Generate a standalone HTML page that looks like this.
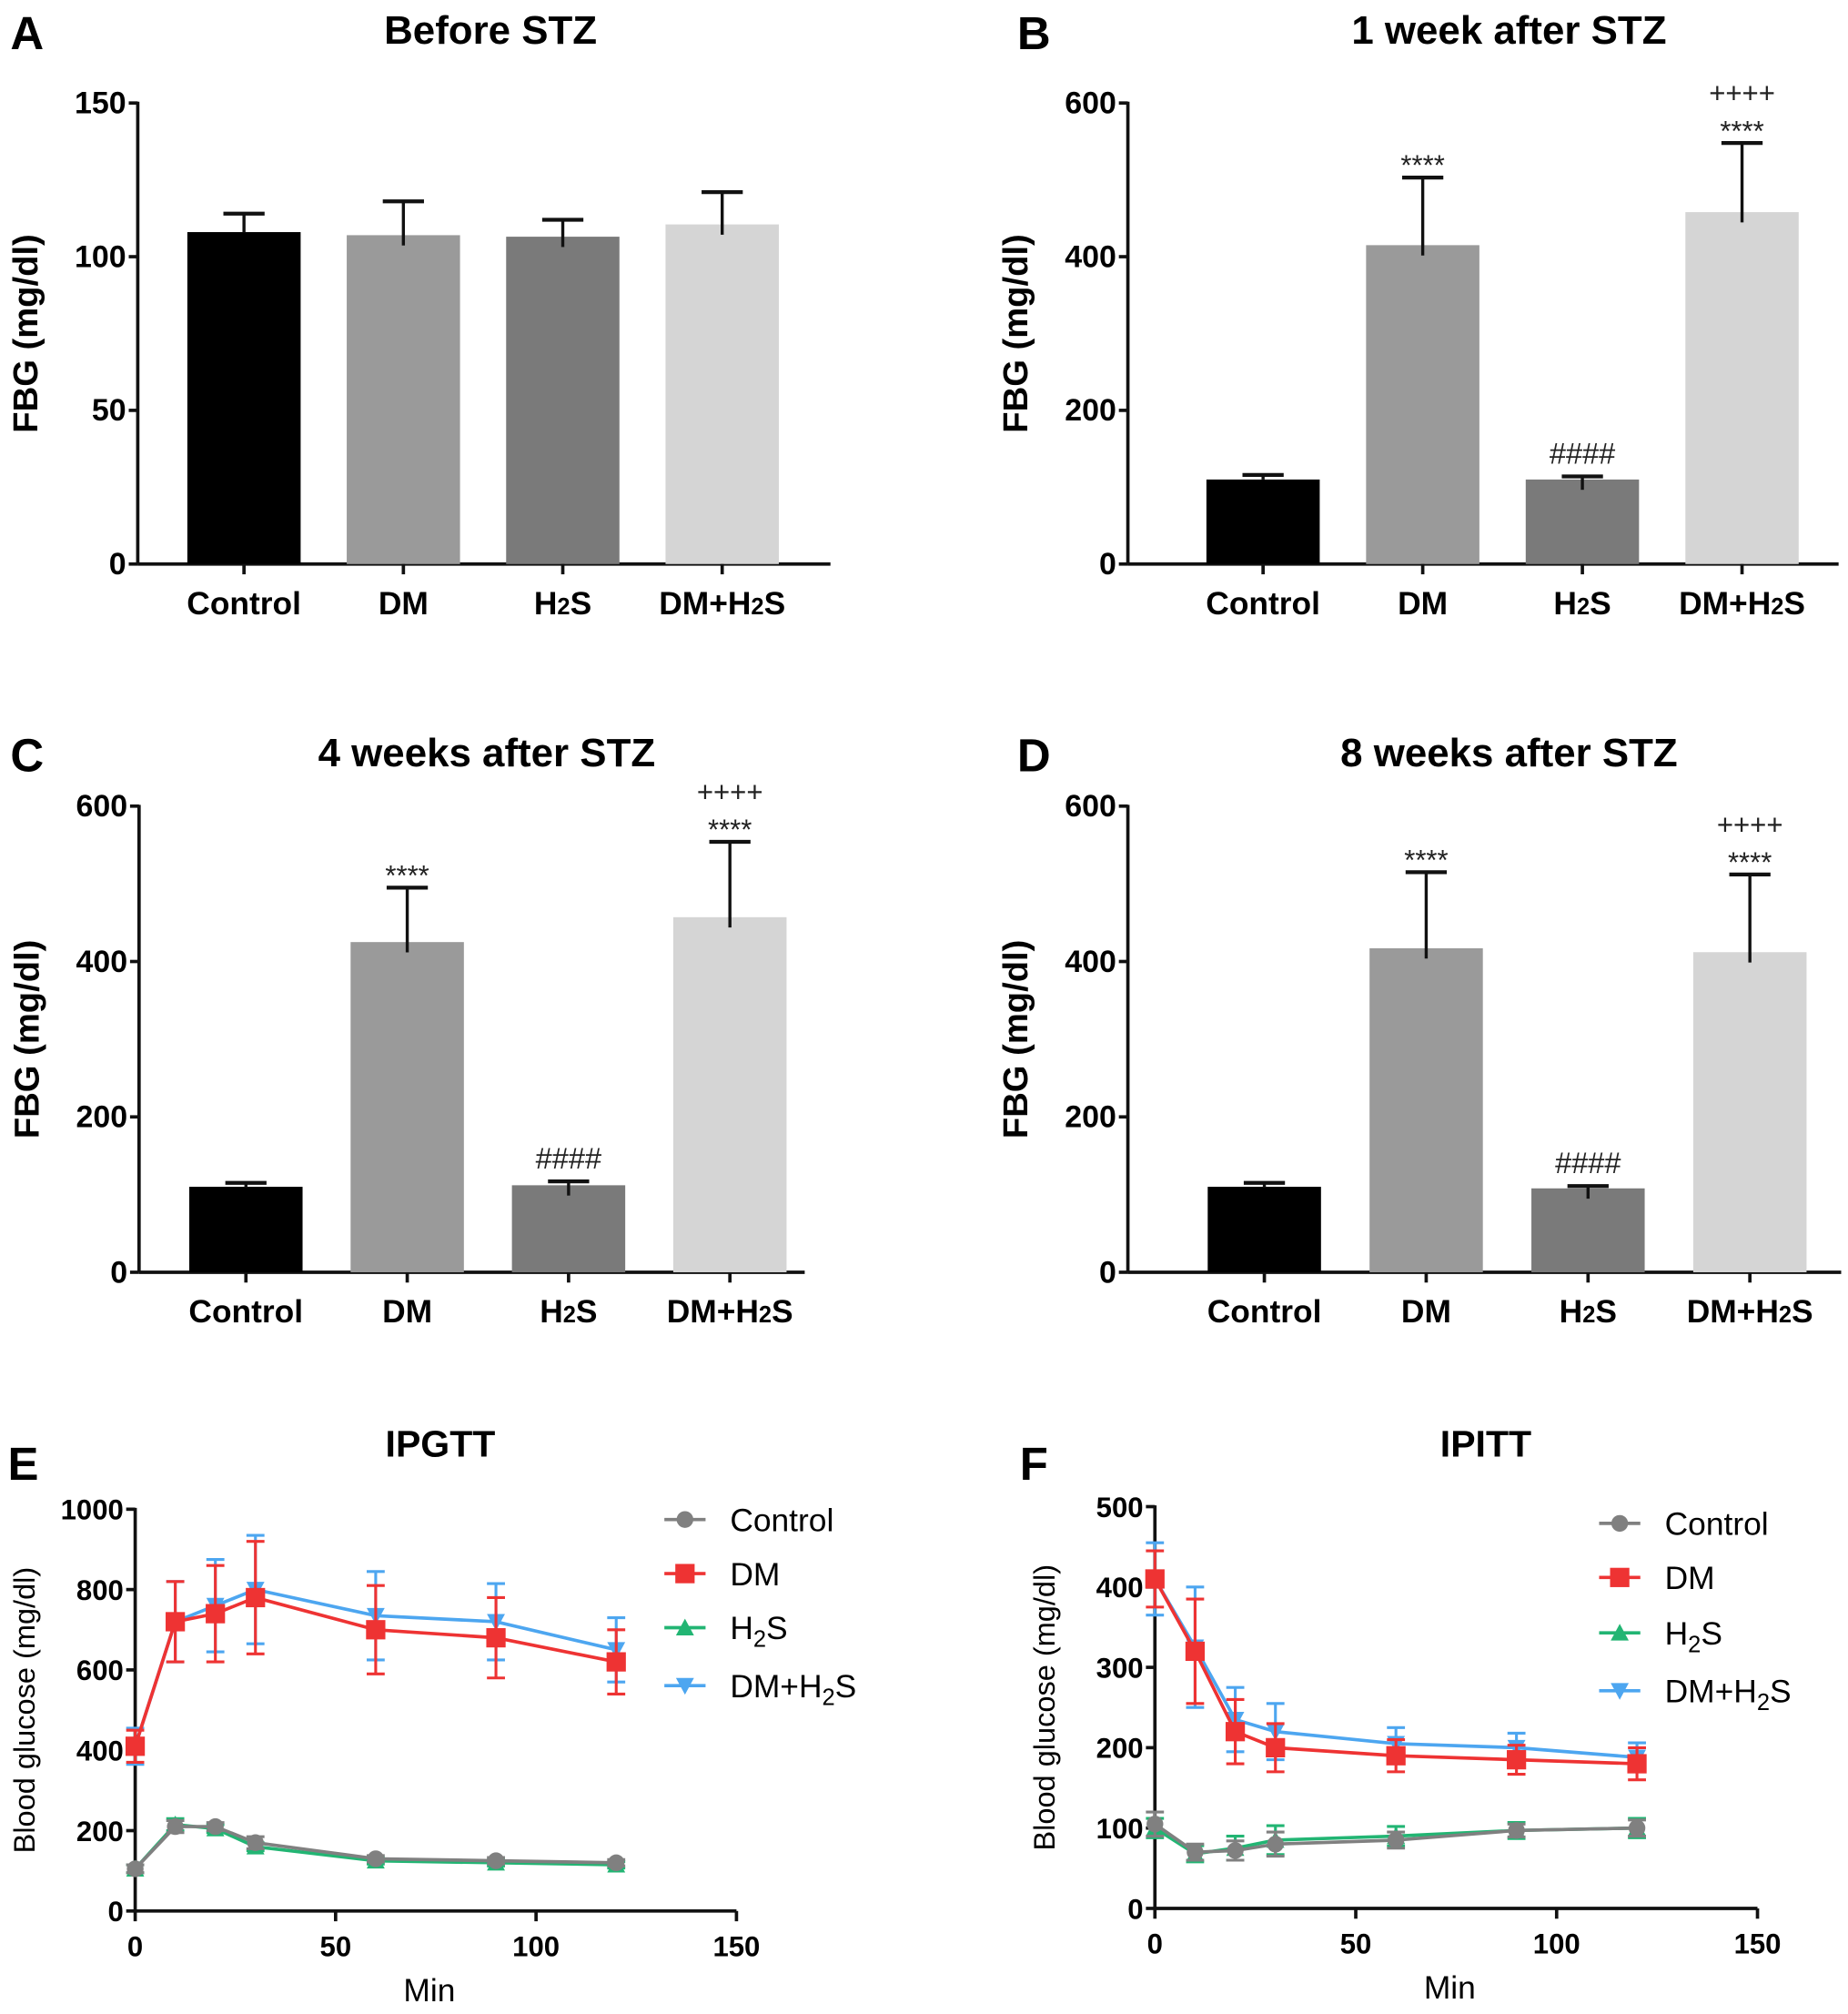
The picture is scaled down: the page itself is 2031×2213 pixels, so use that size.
<!DOCTYPE html>
<html><head><meta charset="utf-8"><style>
html,body{margin:0;padding:0;background:#fff;}
svg{display:block;}
text{font-family:"Liberation Sans",Arial,sans-serif;}
.b{font-weight:bold;}
</style></head><body>
<svg id="fig" width="2031" height="2213" viewBox="0 0 1435.3 1564" preserveAspectRatio="none" xmlns="http://www.w3.org/2000/svg"></svg>
<script>
// ---- Bar panel data ----
const barCategories = ["Control","DM","H2S","DM+H2S"];
const barColors = ["#000000","#9a9a9a","#7a7a7a","#d5d5d5"];
const valsA = [108,107,106.5,110.5];
const errA  = [6,11,5.5,10.5];
const valsB = [110,415,110,458];
const errB  = [6,88,4,90];
const valsC = [110,425,112,457];
const errC  = [5,70,5,97];
const valsD = [110,417,108,412];
const errD  = [5,98,3,100];
const ticksA = [0,50,100,150];
const ticks600 = [0,200,400,600];
const annotB = [[],["****"],["####"],["****","++++"]];
const annotC = [[],["****"],["####"],["****","++++"]];
const annotD = [[],["****"],["####"],["****","++++"]];
// ---- Line panel data ----
const times = [0,10,20,30,60,90,120];
const xTicks = [0,50,100,150];
const ticksE = [0,200,400,600,800,1000];
const ticksF = [0,100,200,300,400,500];
const seriesNames = ["Control","DM","H2S","DM+H2S"];
const seriesColors = ["#808080","#ee3333","#22b573","#4da6f0"];
const E_control = [105,210,210,170,130,125,120];
const E_controlErr = [10,15,10,15,8,8,8];
const E_dm = [410,720,740,780,700,680,620];
const E_dmErr = [40,100,120,140,110,100,80];
const E_h2s = [105,215,205,160,125,120,115];
const E_h2sErr = [10,15,10,10,8,8,8];
const E_dmh = [410,720,760,800,735,720,650];
const E_dmhErr = [45,100,115,135,110,95,80];
const F_control = [105,70,72,80,85,97,100];
const F_controlErr = [15,10,12,15,10,8,10];
const F_dm = [410,320,220,200,190,185,180];
const F_dmErr = [35,65,40,30,20,18,20];
const F_h2s = [100,68,75,85,90,97,100];
const F_h2sErr = [12,10,15,18,12,10,12];
const F_dmh = [410,325,235,220,205,200,188];
const F_dmhErr = [45,75,40,35,20,18,18];

const NS="http://www.w3.org/2000/svg";
const svg=document.getElementById('fig');
function mk(tag,attrs,parent,txt){const e=document.createElementNS(NS,tag);for(const k in attrs)e.setAttribute(k,attrs[k]);if(txt!==undefined)e.textContent=txt;(parent||svg).appendChild(e);return e;}
function line(g,x1,y1,x2,y2,c,w){return mk('line',{x1,y1,x2,y2,stroke:c,'stroke-width':w},g);}

function barPanel(p){
  const g=mk('g',{});
  
  
  const yS=v=>p.y0-(v/p.ymax)*(p.y0-p.y1);
  const letter=mk('text',{x:p.lx,y:p.ty+5,'font-size':36,class:'b'},g,p.letter);
  
  const t=mk('text',{x:p.tcx,y:p.ty+1,'font-size':31,class:'b','text-anchor':'middle'},g,p.title);
  
  line(g,p.ax,p.y1-1,p.ax,p.y0,'#111',2.6);
  line(g,p.ax,p.y0,p.xend,p.y0,'#111',2.6);
  p.ticks.forEach(v=>{const y=yS(v);line(g,p.ax-7,y,p.ax,y,'#111',2.6);
    const tl=mk('text',{x:p.ax-9,y:y+8,'font-size':24,class:'b','text-anchor':'end'},g,v);
    });
  const yl=mk('text',{transform:`translate(${p.ax-78},${(p.y0+p.y1)/2}) rotate(-90)`,'font-size':27,class:'b','text-anchor':'middle'},g,'FBG (mg/dl)');
  
  barCategories.forEach((c,i)=>{
    const cx=p.c0+i*p.step, w=88, v=p.vals[i], e=p.errs[i];
    const r=mk('rect',{x:cx-w/2,y:yS(v),width:w,height:p.y0-yS(v),fill:barColors[i]},g);
    
    line(g,cx,yS(v)+ (i==0?0:8),cx,yS(v+e),'#111',2.4);
    line(g,cx-16,yS(v+e),cx+16,yS(v+e),'#111',3);
    line(g,cx,p.y0,cx,p.y0+8,'#111',2.6);
    const lab=mk('text',{x:cx,y:p.y0+39,'font-size':25,class:'b','text-anchor':'middle'},g);
    
    const m=c.match(/^(.*)H2S$/);
    if(m){mk('tspan',{},lab,m[1]+'H');mk('tspan',{'font-size':18},lab,'2');mk('tspan',{},lab,'S');}else lab.textContent=c;
    (p.ann[i]||[]).forEach((a,k)=>{
      const at=mk('text',{x:cx,y:yS(v+e)-10-k*21+ (a[0]=='*'?8:0),'font-size':a[0]=='#'?23:22,'text-anchor':'middle',fill:'#222'},g,a);
      
    });
  });
}
barPanel({letter:'A',title:'Before STZ',lx:8,tcx:381,ty:33,ax:107,y0:438,y1:80,xend:645,ymax:150,ticks:ticksA,vals:valsA,errs:errA,c0:189.5,step:123.8,ann:[]});
barPanel({letter:'B',title:'1 week after STZ',lx:790,tcx:1172,ty:33,ax:876,y0:438,y1:80,xend:1428,ymax:600,ticks:ticks600,vals:valsB,errs:errB,c0:981,step:124,ann:annotB});
barPanel({letter:'C',title:'4 weeks after STZ',lx:8,tcx:378,ty:594,ax:108,y0:988,y1:626,xend:625,ymax:600,ticks:ticks600,vals:valsC,errs:errC,c0:191,step:125.3,ann:annotC});
barPanel({letter:'D',title:'8 weeks after STZ',lx:790,tcx:1172,ty:594,ax:876,y0:988,y1:626,xend:1430,ymax:600,ticks:ticks600,vals:valsD,errs:errD,c0:982,step:125.7,ann:annotD});

function marker(g,k,x,y,c){
  let m;
  if(k==0)m=mk('circle',{cx:x,cy:y,r:6.5,fill:c},g);
  else if(k==1)m=mk('rect',{x:x-7.5,y:y-7.5,width:15,height:15,fill:c},g);
  else if(k==2)m=mk('polygon',{points:`${x},${y-7} ${x-7},${y+6} ${x+7},${y+6}`,fill:c},g);
  else m=mk('polygon',{points:`${x},${y+7} ${x-7},${y-6} ${x+7},${y-6}`,fill:c},g);
  
}
function linePanel(p){
  const g=mk('g',{});
  
  
  const xS=v=>p.ax+v/150*(p.xend-p.ax);
  const yS=v=>p.y0-v/p.ymax*(p.y0-p.y1);
  const letter=mk('text',{x:p.lx,y:1149,'font-size':36,class:'b'},g,p.letter);
  
  const t=mk('text',{x:p.tcx,y:1131,'font-size':29,class:'b','text-anchor':'middle'},g,p.title);
  
  line(g,p.ax,p.y1-1,p.ax,p.y0,'#111',2.6);
  line(g,p.ax,p.y0,p.xend,p.y0,'#111',2.6);
  p.yt.forEach(v=>{const y=yS(v);line(g,p.ax-7,y,p.ax,y,'#111',2.6);
    const tl=mk('text',{x:p.ax-9,y:y+8,'font-size':22,class:'b','text-anchor':'end'},g,v);
    });
  xTicks.forEach(v=>{const x=xS(v);line(g,x,p.y0,x,p.y0+8,'#111',2.6);
    const tl=mk('text',{x:x,y:p.y0+35,'font-size':22,class:'b','text-anchor':'middle'},g,v);
    });
  const xl=mk('text',{x:(p.ax+p.xend)/2-5,y:p.y0+70,'font-size':25,'text-anchor':'middle'},g,'Min');
  
  const yl=mk('text',{transform:`translate(${p.ax-78},${(p.y0+p.y1)/2}) rotate(-90)`,'font-size':23,'text-anchor':'middle'},g,'Blood glucose (mg/dl)');
  
  const order=[2,0,3,1];
  order.forEach(k=>{
    const vals=p.series[k],errs=p.errs[k],c=seriesColors[k];
    const sg=mk('g',{},g);
    
    
    times.forEach((tm,i)=>{const x=xS(tm);
      line(sg,x,yS(vals[i]-errs[i]),x,yS(vals[i]+errs[i]),c,2.2);
      line(sg,x-7,yS(vals[i]+errs[i]),x+7,yS(vals[i]+errs[i]),c,2.2);
      line(sg,x-7,yS(vals[i]-errs[i]),x+7,yS(vals[i]-errs[i]),c,2.2);});
    mk('polyline',{points:times.map((tm,i)=>xS(tm)+','+yS(vals[i])).join(' '),fill:'none',stroke:c,'stroke-width':2.6},sg);
    times.forEach((tm,i)=>marker(sg,k,xS(tm),yS(vals[i]),c));
  });
  seriesNames.forEach((n,k)=>{
    const y=p.ly[k];const lg=mk('g',{},g);
    
    line(lg,p.lmx-16,y,p.lmx+16,y,seriesColors[k],2.6);marker(lg,k,p.lmx,y,seriesColors[k]);
    const tx=mk('text',{x:p.lmx+35,y:y+9,'font-size':25},lg);
    const m=n.match(/^(.*)H2S$/);
    if(m){mk('tspan',{},tx,m[1]+'H');mk('tspan',{'font-size':18,dy:6},tx,'2');mk('tspan',{dy:-6},tx,'S');}else tx.textContent=n;
  });
}
linePanel({letter:'E',title:'IPGTT',lx:6,tcx:342,ax:105,xend:572,y0:1484,y1:1172,ymax:1000,yt:ticksE,
  series:[E_control,E_dm,E_h2s,E_dmh],errs:[E_controlErr,E_dmErr,E_h2sErr,E_dmhErr],lmx:532,ly:[1180,1222,1264,1309]});
linePanel({letter:'F',title:'IPITT',lx:792,tcx:1154,ax:897,xend:1365,y0:1482,y1:1170,ymax:500,yt:ticksF,
  series:[F_control,F_dm,F_h2s,F_dmh],errs:[F_controlErr,F_dmErr,F_h2sErr,F_dmhErr],lmx:1258,ly:[1183,1225,1268,1313]});
</script>
</body></html>
